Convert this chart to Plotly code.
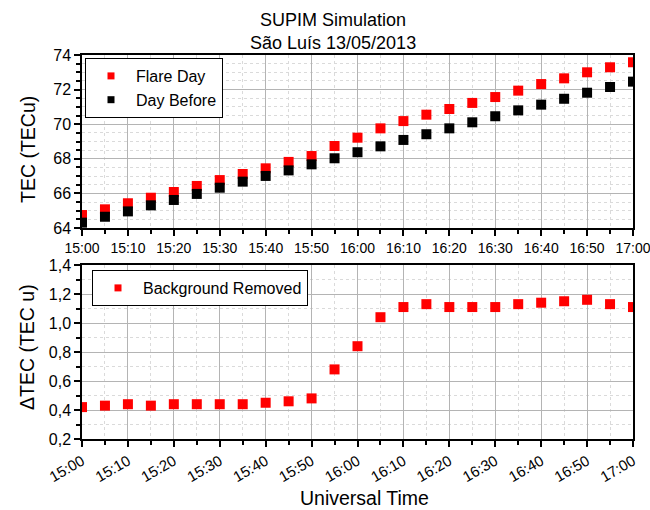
import plotly.graph_objects as go

times = ["15:00", "15:05", "15:10", "15:15", "15:20", "15:25", "15:30", "15:35", "15:40",
         "15:45", "15:50", "15:55", "16:00", "16:05", "16:10", "16:15", "16:20", "16:25",
         "16:30", "16:35", "16:40", "16:45", "16:50", "16:55", "17:00"]
flare_day = [64.75, 65.08, 65.43, 65.75, 66.08, 66.43, 66.77, 67.12, 67.45, 67.82, 68.16,
             68.74, 69.22, 69.76, 70.18, 70.55, 70.88, 71.23, 71.57, 71.94, 72.32, 72.65,
             73.00, 73.29, 73.58]
day_before = [64.31, 64.65, 64.96, 65.31, 65.62, 65.97, 66.33, 66.68, 67.01, 67.33, 67.68,
              68.03, 68.38, 68.72, 69.09, 69.42, 69.76, 70.11, 70.46, 70.80, 71.13, 71.47,
              71.82, 72.15, 72.46]
bg_removed = [0.42, 0.43, 0.44, 0.43, 0.44, 0.44, 0.44, 0.44, 0.45, 0.46, 0.48, 0.68, 0.84,
              1.04, 1.11, 1.13, 1.11, 1.11, 1.11, 1.13, 1.14, 1.15, 1.16, 1.13, 1.11]
date = "2013-05-13 "
x = [date + t for t in times]
xrange_ = [date + "15:00", date + "17:00"]

FONT = "Liberation Sans, Arial, sans-serif"
MAJ = "#b4b4b4"
MIN = "#dadada"
RED = "#ff0000"

W, H = 650, 510
ML, MR, MT, MB = 82, 17, 55, 71
PW, PH = W - ML - MR, H - MT - MB


def px(xp):
    return (xp - ML) / PW


def py(yp):
    return (H - MB - yp) / PH


fig = go.Figure()
# data traces
fig.add_trace(go.Scatter(x=x, y=flare_day, mode="markers", name="Flare Day", showlegend=False,
                         marker=dict(symbol="square", size=10, color=RED),
                         xaxis="x", yaxis="y"))
fig.add_trace(go.Scatter(x=x, y=day_before, mode="markers", name="Day Before", showlegend=False,
                         marker=dict(symbol="square", size=10, color="#000000"),
                         xaxis="x", yaxis="y"))
fig.add_trace(go.Scatter(x=x, y=bg_removed, mode="markers", name="Background Removed",
                         showlegend=False,
                         marker=dict(symbol="square", size=10, color=RED),
                         xaxis="x2", yaxis="y2"))
# legend entries (smaller legend symbols, as in the reference)
for name, col, xa, ya, lg in [("Flare Day", RED, "x", "y", "legend"),
                              ("Day Before", "#000000", "x", "y", "legend"),
                              ("Background Removed", RED, "x2", "y2", "legend2")]:
    fig.add_trace(go.Scatter(x=[None], y=[None], mode="markers", name=name,
                             marker=dict(symbol="square", size=7, color=col),
                             xaxis=xa, yaxis=ya, legend=lg, showlegend=True))


def xax(anchor, angle, fsize):
    return dict(type="date", range=xrange_, anchor=anchor, tickformat="%H:%M",
                dtick=600000, tick0=date + "15:00", ticks="outside", ticklen=6, tickwidth=1.5,
                tickcolor="black", showline=True, linecolor="black", linewidth=1.5, mirror=True,
                showgrid=True, gridcolor=MAJ, gridwidth=1, zeroline=False, automargin=False,
                ticklabeloverflow="allow",
                tickfont=dict(size=fsize, color="black", family=FONT), tickangle=angle,
                minor=dict(dtick=300000, ticks="outside", ticklen=4, tickcolor="black",
                           showgrid=True, gridcolor=MIN, griddash="dot"))


def yax(domain, anchor, rng, dtick, mdtick, fmt):
    return dict(domain=domain, anchor=anchor, range=rng, dtick=dtick, ticks="outside",
                ticklen=6, tickwidth=1.5, tickcolor="black", showline=True, linecolor="black",
                linewidth=1.5, mirror=True, showgrid=True, gridcolor=MAJ, zeroline=False,
                automargin=False, tickformat=fmt,
                tickfont=dict(size=16, color="black", family=FONT),
                minor=dict(dtick=mdtick, ticks="outside", ticklen=4, tickcolor="black",
                           showgrid=True, gridcolor=MIN, griddash="dot"))


def x_in(over, anchor):
    return dict(type="date", range=xrange_, overlaying=over, anchor=anchor, side="top",
                dtick=600000, tick0=date + "15:00", ticks="inside", ticklen=6, tickwidth=1.5,
                tickcolor="black", showticklabels=False, showgrid=False, showline=False,
                zeroline=False, automargin=False,
                minor=dict(dtick=300000, ticks="inside", ticklen=4, tickcolor="black",
                           showgrid=False))


def y_in(over, anchor, rng, dtick, mdtick):
    return dict(range=rng, overlaying=over, anchor=anchor, side="right", dtick=dtick,
                ticks="inside", ticklen=6, tickwidth=1.5, tickcolor="black",
                showticklabels=False, showgrid=False, showline=False, zeroline=False,
                automargin=False,
                minor=dict(dtick=mdtick, ticks="inside", ticklen=4, tickcolor="black",
                           showgrid=False))


top_dom = [py(228), 1.0]
bot_dom = [0.0, py(265)]

ann_font = dict(size=18, color="black", family=FONT)
ax_font = dict(size=19.5, color="black", family=FONT)
leg_font = dict(size=16, color="black", family=FONT)

fig.update_layout(
    width=W, height=H,
    margin=dict(l=ML, r=MR, t=MT, b=MB, autoexpand=False),
    paper_bgcolor="white", plot_bgcolor="white",
    font=dict(family=FONT, color="black"),
    separators=",.",
    xaxis=xax("y", 0, 14),
    yaxis=yax(top_dom, "x", [64, 74], 2, 0.5, "d"),
    xaxis2=xax("y2", -30, 15),
    yaxis2=yax(bot_dom, "x2", [0.2, 1.4], 0.2, 0.1, ".1f"),
    xaxis3=x_in("x", "y"),
    yaxis3=y_in("y", "x", [64, 74], 2, 0.5),
    xaxis4=x_in("x2", "y2"),
    yaxis4=y_in("y2", "x2", [0.2, 1.4], 0.2, 0.1),
    legend=dict(x=px(85), y=py(58), xanchor="left", yanchor="top", bgcolor="white",
                bordercolor="black", borderwidth=1, font=leg_font,
                tracegroupgap=0, itemwidth=40),
    legend2=dict(x=px(92), y=py(270), xanchor="left", yanchor="top", bgcolor="white",
                 bordercolor="black", borderwidth=1, font=leg_font, itemwidth=40),
    showlegend=True,
    annotations=[
        dict(text="SUPIM Simulation", x=px(333), y=py(20), xref="paper", yref="paper",
             xanchor="center", yanchor="middle", showarrow=False, font=ann_font),
        dict(text="São Luís 13/05/2013", x=px(333), y=py(43), xref="paper", yref="paper",
             xanchor="center", yanchor="middle", showarrow=False, font=ann_font),
        dict(text="TEC (TECu)", x=px(28), y=py(150), xref="paper", yref="paper",
             xanchor="center", yanchor="middle", textangle=-90, showarrow=False, font=ax_font),
        dict(text="ΔTEC (TEC u)", x=px(27), y=py(347), xref="paper", yref="paper",
             xanchor="center", yanchor="middle", textangle=-90, showarrow=False, font=ax_font),
        dict(text="Universal Time", x=px(364), y=py(498), xref="paper", yref="paper",
             xanchor="center", yanchor="middle", showarrow=False, font=ax_font),
    ],
)

fig.write_html("out.html", config={"displayModeBar": False},
               post_script="document.body.style.margin='0';document.body.style.overflow='hidden';")
